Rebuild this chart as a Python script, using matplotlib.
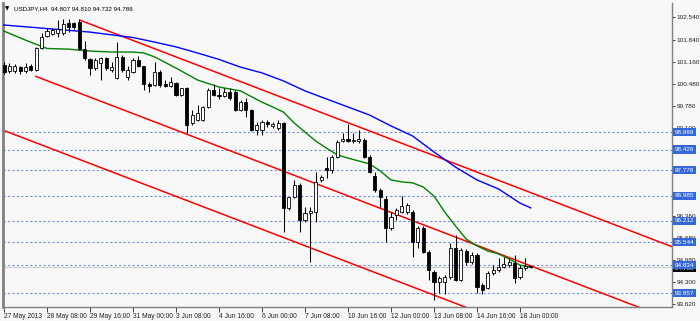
import matplotlib
matplotlib.use("Agg")
import matplotlib.pyplot as plt
import matplotlib.transforms as mtransforms

# ---------------- data ----------------
title_symbol = "USDJPY,H4"
title_ohlc = "94.807 94.810 94.732 94.786"

opens = [101.06, 100.87, 100.87, 100.99, 100.87, 101.03, 100.90, 101.59, 101.96, 102.02,
         102.05, 102.05, 102.36, 102.36, 102.39, 101.55, 101.24, 100.96, 101.12, 101.27,
         100.90, 100.65, 101.30, 100.68, 100.84, 101.21, 101.03, 100.46, 100.43, 100.84,
         100.46, 100.40, 100.50, 100.12, 100.34, 99.25, 99.35, 99.35, 99.75, 100.28,
         100.12, 100.09, 100.22, 100.22, 99.66, 99.90, 99.66, 99.03, 99.03, 99.28,
         99.16, 99.10, 99.25, 96.61, 96.95, 97.32, 96.23, 96.45, 96.48, 97.48,
         97.85, 97.79, 98.19, 98.69, 98.75, 98.69, 98.69, 98.72, 98.19, 97.60,
         97.17, 96.89, 95.99, 96.39, 96.48, 96.48, 96.48, 95.55, 95.99, 95.24,
         94.62, 94.30, 94.30, 94.46, 95.36, 94.37, 95.27, 94.93, 95.15, 94.21,
         94.12, 94.59, 94.68, 94.77, 94.84, 94.90, 94.46, 94.74, 94.807]
highs = [101.15, 101.12, 101.09, 101.03, 101.12, 101.09, 101.62, 102.05, 102.21, 102.21,
         102.46, 102.49, 102.49, 102.39, 102.49, 101.80, 101.27, 101.27, 101.30, 101.30,
         101.15, 101.77, 101.37, 101.03, 101.27, 101.34, 101.03, 100.53, 101.15, 100.90,
         100.59, 100.68, 100.53, 100.34, 100.37, 99.66, 99.81, 99.78, 100.34, 100.46,
         100.34, 100.34, 100.34, 100.28, 99.97, 100.03, 99.69, 99.28, 99.35, 99.35,
         99.28, 99.35, 99.28, 96.95, 97.48, 97.39, 96.64, 96.64, 97.73, 97.64,
         98.19, 98.26, 98.72, 98.94, 99.22, 98.94, 99.03, 98.79, 98.26, 97.73,
         97.23, 96.98, 96.48, 96.61, 96.98, 96.76, 96.55, 96.05, 96.05, 95.30,
         94.68, 94.49, 94.52, 95.52, 95.77, 95.36, 95.33, 95.24, 95.21, 94.27,
         94.65, 94.83, 95.05, 95.08, 95.02, 95.15, 94.83, 95.05, 94.810]
lows = [100.78, 100.81, 100.81, 100.78, 100.81, 100.87, 100.87, 101.55, 101.93, 101.99,
        101.93, 101.99, 102.08, 102.18, 101.52, 101.21, 100.74, 100.90, 100.59, 100.90,
        100.84, 100.62, 100.84, 100.59, 100.81, 100.99, 100.28, 100.22, 100.40, 100.37,
        100.37, 100.37, 100.09, 100.09, 98.94, 99.19, 99.31, 99.31, 99.72, 100.09,
        100.00, 100.06, 99.97, 99.63, 99.63, 99.44, 99.00, 98.88, 98.88, 99.13,
        99.10, 99.03, 95.86, 96.55, 96.92, 95.86, 96.17, 94.93, 96.17, 97.42,
        97.54, 97.70, 98.16, 98.66, 98.66, 98.63, 98.63, 98.16, 97.70, 97.11,
        96.64, 95.55, 95.92, 96.23, 96.45, 96.42, 95.08, 95.36, 95.21, 94.37,
        93.75, 93.96, 93.93, 94.40, 94.34, 94.34, 94.83, 94.87, 93.96, 93.93,
        94.09, 94.52, 94.62, 94.74, 94.77, 94.27, 94.40, 94.68, 94.732]
closes = [100.84, 101.03, 101.03, 100.87, 100.99, 100.90, 101.59, 101.93, 102.11, 102.15,
          102.18, 102.33, 102.24, 102.24, 101.55, 101.27, 100.96, 101.21, 101.27, 100.96,
          100.99, 101.30, 100.90, 100.90, 101.21, 101.03, 100.46, 100.40, 100.84, 100.43,
          100.40, 100.53, 100.12, 100.34, 99.19, 99.50, 99.56, 99.75, 100.28, 100.12,
          100.09, 100.22, 100.03, 99.66, 99.90, 99.66, 99.03, 99.19, 99.28, 99.22,
          99.22, 99.25, 96.61, 96.95, 97.32, 96.23, 96.45, 96.51, 97.42, 97.57,
          97.79, 98.19, 98.66, 98.75, 98.69, 98.72, 98.75, 98.19, 97.73, 97.17,
          96.95, 95.99, 96.33, 96.55, 96.67, 96.70, 95.55, 95.99, 95.24, 94.68,
          94.30, 94.43, 94.46, 95.36, 94.37, 95.30, 94.93, 95.15, 94.15, 94.06,
          94.59, 94.68, 94.77, 94.87, 94.93, 94.43, 94.74, 94.80, 94.786]

ma_fast_bars = [-1, 0, 4, 8, 12, 16, 20, 24, 26, 28, 32, 36, 40, 44, 48, 50, 52, 54, 56, 58,
                60, 62, 64, 66, 68, 70, 72, 74, 76, 78, 80, 82, 84, 86, 88, 90, 92, 94, 96, 98]
ma_fast_vals = [102.18, 102.11, 101.83, 101.57, 101.55, 101.49, 101.46, 101.46, 101.43, 101.31,
                100.96, 100.59, 100.37, 100.25, 99.90, 99.75, 99.59, 99.25, 98.97, 98.69,
                98.47, 98.26, 98.16, 98.07, 97.98, 97.76, 97.48, 97.42, 97.39, 97.26,
                96.98, 96.48, 96.05, 95.64, 95.43, 95.27, 95.18, 95.02, 94.83, 94.77]

ma_slow_bars = [-1, 0, 8, 16, 24, 28, 32, 36, 40, 44, 48, 52, 56, 60, 64, 68, 72, 76, 80, 84,
                88, 92, 96, 98]
ma_slow_vals = [102.32, 102.30, 102.19, 102.08, 101.91, 101.77, 101.62, 101.43, 101.23, 100.99,
                100.81, 100.56, 100.25, 100.00, 99.75, 99.50, 99.16, 98.85, 98.35, 97.88,
                97.48, 97.20, 96.76, 96.61]

channel_upper_bars = [14.0, 124.5]
channel_upper_vals = [102.46, 95.39]
channel_mid_bars = [5.8, 124.5]
channel_mid_vals = [100.71, 93.11]
channel_low_bars = [-0.2, 124.5]
channel_low_vals = [99.03, 91.05]

level_values = [98.969, 98.426, 97.778, 96.985, 96.212, 95.544, 94.834, 93.957]
level_labels = ["98.969", "98.426", "97.778", "96.985", "96.212", "95.544", "94.834", "93.957"]
bid_price = 94.786
bid_label = "94.786"

ytick_values = [102.540, 101.840, 101.160, 100.480, 99.780, 99.100, 98.420, 97.740,
                97.040, 96.360, 95.680, 94.980, 94.300, 93.620]
ytick_labels = ["102.540", "101.840", "101.160", "100.480", "99.780", "99.100", "98.420",
                "97.740", "97.040", "96.360", "95.680", "94.980", "94.300", "93.620"]
xtick_bars = [0, 8, 16, 24, 32, 40, 48, 56, 64, 72, 80, 88, 96]
xtick_labels = ["27 May 2013", "28 May 08:00", "29 May 16:00", "31 May 00:00", "3 Jun 08:00",
                "4 Jun 16:00", "6 Jun 00:00", "7 Jun 08:00", "10 Jun 16:00", "12 Jun 00:00",
                "13 Jun 08:00", "14 Jun 16:00", "18 Jun 00:00"]

# ---------------- style ----------------
plt.rcParams['font.family'] = ['Liberation Sans', 'DejaVu Sans']
FS_X = 4.8
FS_Y = 4.6
FS_T = 4.5
BG = '#F8F8F8'
LEVEL_COLOR = '#6F8FE6'
LABEL_BG = '#3467DA'

W, H = 700, 321
fig = plt.figure(figsize=(W / 100, H / 100), dpi=100, facecolor=BG)
left_px, right_px, top_px, bottom_px = 3, 672, 3, 306.5
ax = fig.add_axes([left_px / W, (H - bottom_px) / H, (right_px - left_px) / W, (bottom_px - top_px) / H])
ax.set_facecolor(BG)

bar_px = 5.375
x0 = -1.0 / bar_px
ax.set_xlim(x0, x0 + (right_px - left_px) / bar_px)
ax.set_ylim(93.543, 102.985)

# horizontal levels
for lv in level_values:
    ax.axhline(lv, color=LEVEL_COLOR, lw=0.8, ls=(0, (2, 2)), zorder=1)
ax.axhline(bid_price, color='#C8C8C8', lw=0.7, zorder=1)

# channel lines
for bx, bv in [(channel_upper_bars, channel_upper_vals),
               (channel_mid_bars, channel_mid_vals),
               (channel_low_bars, channel_low_vals)]:
    ax.plot(bx, bv, color='#FF0000', lw=1.1, zorder=2, solid_capstyle='butt')

# moving averages
ax.plot(ma_slow_bars, ma_slow_vals, color='#0000FF', lw=1.0, zorder=3)
ax.plot(ma_fast_bars, ma_fast_vals, color='#008000', lw=1.0, zorder=3)

# candles
xs = list(range(len(opens)))
ax.vlines(xs, lows, highs, color='black', lw=0.75, zorder=4)
for i in xs:
    o, c = opens[i], closes[i]
    lo, hi = min(o, c), max(o, c)
    h = max(hi - lo, 0.012)
    fc = 'white' if c > o else 'black'
    ax.bar(i, h, bottom=lo, width=0.58, color=fc, edgecolor='black', linewidth=0.6, zorder=5)

# axes frame
ax.spines['top'].set_visible(False)
ax.spines['left'].set_color('#808080')
ax.spines['left'].set_linewidth(2.0)
ax.spines['right'].set_color('#808080')
ax.spines['right'].set_linewidth(1.0)
ax.spines['bottom'].set_color('#808080')
ax.spines['bottom'].set_linewidth(1.0)

ax.yaxis.tick_right()
ax.set_yticks(ytick_values)
ax.set_yticklabels(ytick_labels)
ax.tick_params(axis='y', direction='out', length=2.5, width=0.7, color='#404040',
               labelsize=FS_Y, pad=1.0, labelcolor='#202020')
ax.set_xticks(xtick_bars)
ax.set_xticklabels(xtick_labels)
ax.tick_params(axis='x', direction='out', length=3.5, width=0.7, color='#404040',
               labelsize=FS_X, pad=1.0, labelcolor='#202020')
for lbl in ax.get_xticklabels():
    lbl.set_horizontalalignment('left')

# right-axis price labels
trans = mtransforms.blended_transform_factory(ax.transAxes, ax.transData)
ax.annotate(bid_label, xy=(1.0, bid_price - 0.05), xycoords=trans, xytext=(2.2, 0),
            textcoords='offset points', va='center', ha='left', fontsize=FS_Y, color='white',
            bbox=dict(boxstyle='square,pad=0.25', fc='black', ec='none'),
            annotation_clip=False, zorder=10)
for lv, lab in zip(level_values, level_labels):
    ax.annotate(lab, xy=(1.0, lv), xycoords=trans, xytext=(2.2, 0), textcoords='offset points',
                va='center', ha='left', fontsize=FS_Y, color='white',
                bbox=dict(boxstyle='square,pad=0.25', fc=LABEL_BG, ec='none'),
                annotation_clip=False, zorder=11)

# title
fig.text(5 / W, 1 - 9 / H, "\u25BC", fontsize=4.0, color='black', va='center', ha='left',
         family='DejaVu Sans')
fig.text(14 / W, 1 - 9 / H, title_symbol + "  " + title_ohlc, fontsize=FS_T, color='black',
         va='center', ha='left')

fig.savefig("out.png", dpi=100, facecolor=BG)
